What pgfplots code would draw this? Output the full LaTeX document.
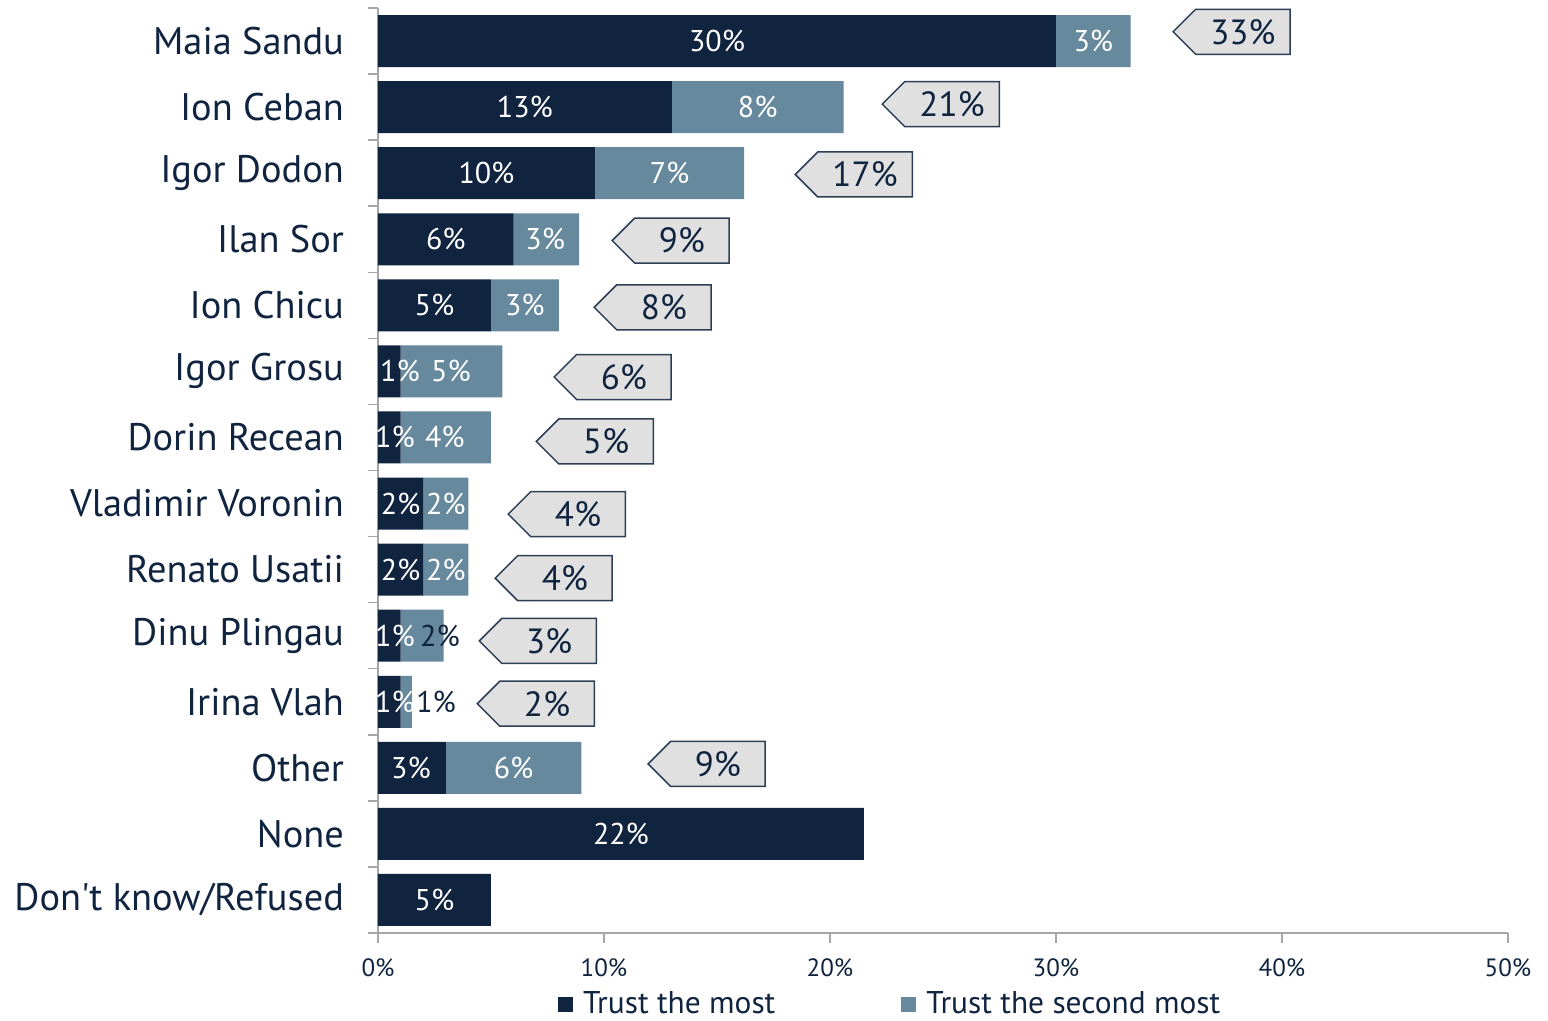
\documentclass[border=0pt]{standalone}
\usepackage{pgfplots}
\pgfplotsset{compat=1.18}
\usepackage{fontspec}
\setmainfont{PT Sans}
\newfontfamily\plainfont{PT Sans}
\usetikzlibrary{shapes.symbols}
\definecolor{navy}{HTML}{10233F}
\definecolor{steel}{HTML}{66899D}
\definecolor{boxfill}{HTML}{E0E0E0}
\definecolor{boxline}{HTML}{2E3F55}
\definecolor{axgray}{HTML}{A6A6A6}
\pgfplotsset{
  common/.style={
    at={(0,0)}, anchor=south west,
    scale only axis, width=565pt, height=462.5pt,
    xmin=0, xmax=50, ymin=-0.5, ymax=13.5, y dir=reverse,
  }
}
\begin{document}
\begin{tikzpicture}
\useasboundingbox (-189pt,-44pt) rectangle (585pt,466.5pt);
\begin{axis}[
  common,
  xbar stacked, bar width=26pt,
  axis x line*=bottom, axis y line*=left,
  axis line style={draw=axgray, line width=0.75pt},
  tick align=outside,
  xtick={0,10,20,30,40,50},
  xticklabels={0\%,10\%,20\%,30\%,40\%,50\%},
  ytick={0,...,13},
  yticklabels={Maia Sandu,Ion Ceban,Igor Dodon,Ilan Sor,Ion Chicu,Igor Grosu,Dorin Recean,Vladimir Voronin,Renato Usatii,Dinu Plingau,Irina Vlah,Other,None,{Don{\plainfont'}t know/Refused}},
  minor ytick={-0.5,0.5,...,13.5},
  major tick length=5pt, minor tick length=5pt,
  every major x tick/.style={draw=axgray, line width=0.75pt},
  every major y tick/.style={draw=none},
  every minor y tick/.style={draw=axgray, line width=0.75pt},
  xticklabel style={font=\fontsize{12.5}{14}\selectfont, text=navy, yshift=-4.5pt},
  yticklabel style={font=\fontsize{19.2}{21}\selectfont, text=navy, xshift=-8.5pt},
  legend style={at={(0.159,-0.077)}, anchor=west, draw=none, fill=none,
    legend columns=2, font=\fontsize{15.7}{17}\selectfont, text=navy,
    inner sep=0pt, nodes={inner sep=1pt},
    /tikz/every odd column/.append style={column sep=4pt},
    /tikz/every even column/.append style={column sep=62pt},
    legend cell align=left},
]
\addplot[fill=navy, draw=none, legend image code/.code={\fill[navy] (0pt,-3.75pt) rectangle (7.5pt,3.75pt);}] coordinates {
(30,0) (13,1) (9.6,2) (6,3) (5,4) (1,5) (1,6) (2,7) (2,8) (1,9) (1,10) (3,11) (21.5,12) (5,13)};
\addplot[fill=steel, draw=none, legend image code/.code={\fill[steel] (0pt,-3.75pt) rectangle (7.5pt,3.75pt);}] coordinates {
(3.3,0) (7.6,1) (6.6,2) (2.9,3) (3,4) (4.5,5) (4,6) (2,7) (2,8) (1.9,9) (0.5,10) (6,11) (0,12) (0,13)};
\legend{Trust the most, Trust the second most}
\end{axis}
\begin{axis}[common, hide axis, clip=false]
% white labels inside bars
\addplot[draw=none, mark=none, nodes near coords={\pgfplotspointmeta\%}, point meta=explicit symbolic,
  every node near coord/.append style={anchor=center, text=white, inner sep=0pt, font=\fontsize{15}{17}\selectfont}]
table[meta=lab] {
x y lab
15 0 30
31.65 0 3
6.5 1 13
16.8 1 8
4.8 2 10
12.9 2 7
3 3 6
7.4 3 3
2.5 4 5
6.5 4 3
0.97 5 1
3.23 5 5
0.75 6 1
2.96 6 4
1.0 7 2
3.0 7 2
1.0 8 2
3.0 8 2
0.75 9 1
0.75 10 1
1.46 11 3
6.0 11 6
10.75 12 22
2.5 13 5
};
% dark labels
\addplot[draw=none, mark=none, nodes near coords={\pgfplotspointmeta\%}, point meta=explicit symbolic,
  every node near coord/.append style={anchor=center, text=navy, inner sep=0pt, font=\fontsize{15}{17}\selectfont}]
table[meta=lab] {
x y lab
2.74 9 2
2.57 10 1
};
% callouts with totals
\addplot[draw=none, mark=none, nodes near coords={\pgfplotspointmeta\%}, point meta=explicit symbolic,
  every node near coord/.append style={anchor=center, shape=signal, signal to=west, signal pointer angle=90,
    draw=boxline, line width=0.75pt, fill=boxfill, text=navy, inner sep=2pt,
    minimum height=22.5pt, minimum width=58.5pt, font=\fontsize{17.5}{20}\selectfont}]
table[meta=lab] {
x y lab
38.27 -0.14 33
25.40 0.955 21
21.55 2.02 17
13.45 3.02 9
12.65 4.03 8
10.88 5.085 6
10.09 6.06 5
8.85 7.16 4
8.27 8.13 4
7.57 9.08 3
7.48 10.03 2
15.04 10.94 9
};
\end{axis}
\end{tikzpicture}
\end{document}
